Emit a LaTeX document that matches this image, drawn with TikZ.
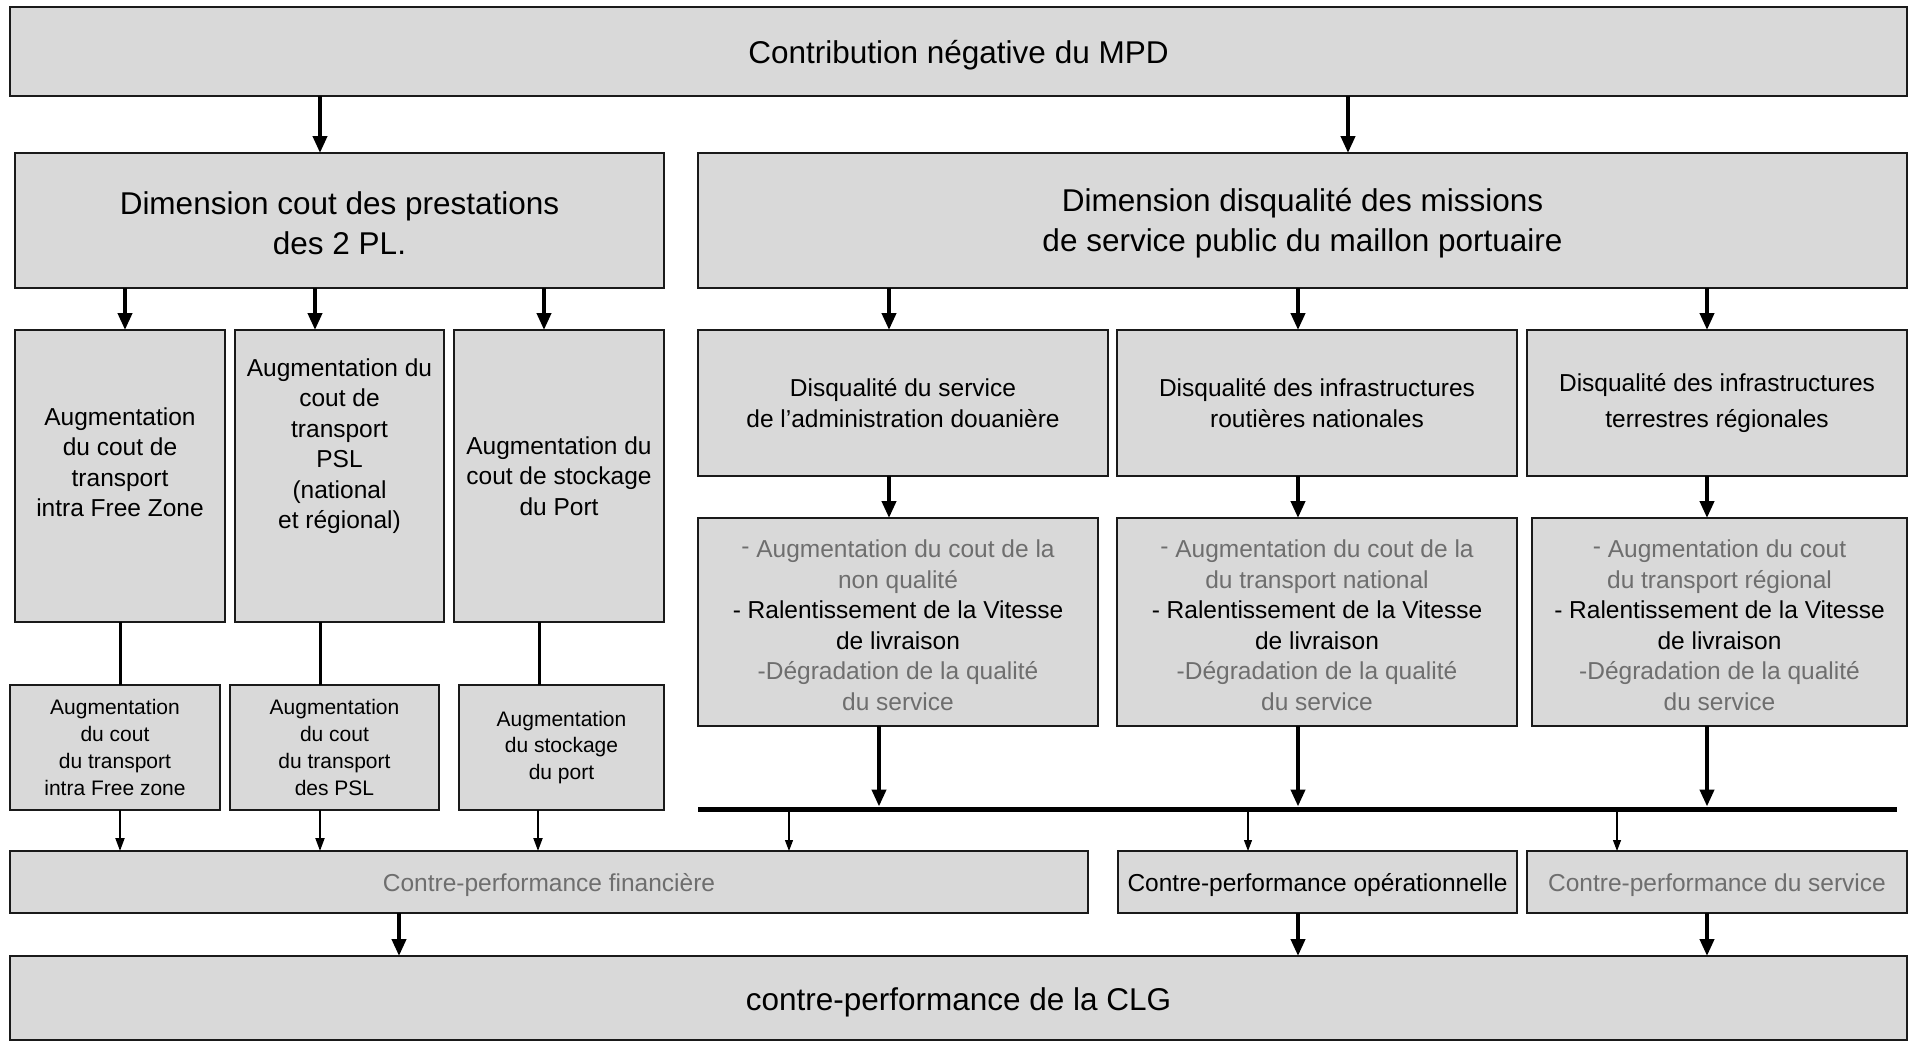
\documentclass[tikz,border=0pt]{standalone}
\usepackage{fontspec}
\setmainfont{Liberation Sans}
\usetikzlibrary{arrows.meta}
\definecolor{boxfill}{HTML}{D9D9D9}
\definecolor{boxdraw}{HTML}{1A1A1A}
\definecolor{txtgray}{HTML}{6E6E6E}
\newcommand{\gr}[1]{\textcolor{txtgray}{#1}}
\newcommand{\rdash}{\raisebox{0.25ex}{-}}
\begin{document}
\begin{tikzpicture}[x=1pt,y=-1pt,
  box/.style={draw=boxdraw, line width=1.4pt, fill=boxfill, inner sep=0pt, outer sep=0pt},
  big/.style={font=\fontsize{31.5}{40}\selectfont, align=center},
  mid/.style={font=\fontsize{24.5}{30.5}\selectfont, align=center},
  sml/.style={font=\fontsize{21}{26.7}\selectfont, align=center},
  bigarrow/.style={line width=4pt, -{Triangle[length=17pt,width=14pt]}},
  medarrow/.style={line width=2pt, -{Triangle[length=13pt,width=9pt]}},
  finearrow/.style={line width=1.2pt, -{Triangle[length=11pt,width=8pt]}},
  plainline/.style={line width=3pt}
]
\useasboundingbox (0,0) rectangle (1914,1044);
\fill[white] (0,0) rectangle (1914,1044);

% top
\node[box, minimum width=1897pt, minimum height=89pt] (top) at (958.5,51.5) {};
\node[big] (topt) at ([yshift=-4pt]top.center) {Contribution négative du MPD};

% dimensions
\node[box, minimum width=649pt, minimum height=135pt] (dimL) at (339.5,220.5) {};
\node[big] (dimLt) at ([yshift=-3pt]dimL.center) {Dimension cout des prestations\\des 2 PL.};
\node[box, minimum width=1209pt, minimum height=135pt] (dimR) at (1302.5,220.5) {};
\node[big] (dimRt) at ([yshift=-3pt]dimR.center) {Dimension disqualité des missions\\de service public du maillon portuaire};

% left row 3
\node[box, minimum width=210pt, minimum height=292pt] (a1) at (120,476) {};
\node[mid] (a1t) at ([yshift=14pt]a1.center) {Augmentation\\du cout de\\transport\\intra Free Zone};
\node[box, minimum width=209pt, minimum height=292pt] (a2) at (339.5,476) {};
\node[mid] (a2t) at ([yshift=30pt]a2.center) {Augmentation du\\cout de\\transport\\PSL\\(national\\et régional)};
\node[box, minimum width=210pt, minimum height=292pt] (a3) at (559,476) {};
\node[mid] (a3t) at (a3.center) {Augmentation du\\cout de stockage\\du Port};

% left row 4
\node[box, minimum width=210pt, minimum height=125pt] (b1) at (115,747.5) {};
\node[sml] (b1t) at (b1.center) {Augmentation\\du cout\\du transport\\intra Free zone};
\node[box, minimum width=209pt, minimum height=125pt] (b2) at (334.5,747.5) {};
\node[sml] (b2t) at (b2.center) {Augmentation\\du cout\\du transport\\des PSL};
\node[box, minimum width=205pt, minimum height=125pt] (b3) at (561.5,747.5) {};
\node[sml] (b3t) at (b3.center) {Augmentation\\du stockage\\du port};

% right row 3
\node[box, minimum width=410pt, minimum height=146pt] (c1) at (903,403) {};
\node[mid] (c1t) at (c1.center) {Disqualité du service\\de l’administration douanière};
\node[box, minimum width=400pt, minimum height=146pt] (c2) at (1317,403) {};
\node[mid] (c2t) at (c2.center) {Disqualité des infrastructures\\routières nationales};
\node[box, minimum width=380pt, minimum height=146pt] (c3) at (1717,403) {};
\node[mid] (c3t) at (c3.center) {Disqualité des infrastructures\\[6pt]terrestres régionales};

% right row 4
\node[box, minimum width=400pt, minimum height=208pt] (d1) at (898,622) {};
\node[mid] (d1t) at ([yshift=-3pt]d1.center) {\gr{\rdash{} Augmentation du cout de la}\\\gr{non qualité}\\- Ralentissement de la Vitesse\\de livraison\\\gr{-Dégradation de la qualité}\\\gr{du service}};
\node[box, minimum width=400pt, minimum height=208pt] (d2) at (1317,622) {};
\node[mid] (d2t) at ([yshift=-3pt]d2.center) {\gr{\rdash{} Augmentation du cout de la}\\\gr{du transport national}\\- Ralentissement de la Vitesse\\de livraison\\\gr{-Dégradation de la qualité}\\\gr{du service}};
\node[box, minimum width=375pt, minimum height=208pt] (d3) at (1719.5,622) {};
\node[mid] (d3t) at ([yshift=-3pt]d3.center) {\gr{\rdash{} Augmentation du cout}\\\gr{du transport régional}\\- Ralentissement de la Vitesse\\de livraison\\\gr{-Dégradation de la qualité}\\\gr{du service}};

% contre-performance
\node[box, minimum width=1078pt, minimum height=62pt] (e1) at (549,882) {};
\node[mid] (e1t) at ([yshift=-3.5pt]e1.center) {\gr{Contre-performance financière}};
\node[box, minimum width=399pt, minimum height=62pt] (e2) at (1317.5,882) {};
\node[mid] (e2t) at ([yshift=-3.5pt]e2.center) {Contre-performance opérationnelle};
\node[box, minimum width=380pt, minimum height=62pt] (e3) at (1717,882) {};
\node[mid] (e3t) at ([yshift=-3.5pt]e3.center) {\gr{Contre-performance du service}};

% bottom
\node[box, minimum width=1897pt, minimum height=84pt] (f) at (958.5,998) {};
\node[big] (ft) at ([yshift=-4.5pt]f.center) {contre-performance de la CLG};

% bus
\coordinate (busL) at (698,809);
\coordinate (busR) at (1897,809);
\draw[line width=5pt] (busL) -- (busR);

% connectors
\draw[bigarrow] (top.south -| 320,0) -- (dimL.north -| 320,0);
\draw[bigarrow] (top.south -| 1348,0) -- (dimR.north -| 1348,0);

\draw[bigarrow] (dimL.south -| 125,0) -- (a1.north -| 125,0);
\draw[bigarrow] (dimL.south -| 315,0) -- (a2.north -| 315,0);
\draw[bigarrow] (dimL.south -| 544,0) -- (a3.north -| 544,0);

\draw[bigarrow] (dimR.south -| 889,0) -- (c1.north -| 889,0);
\draw[bigarrow] (dimR.south -| 1298,0) -- (c2.north -| 1298,0);
\draw[bigarrow] (dimR.south -| 1707,0) -- (c3.north -| 1707,0);

\draw[plainline] (a1.south -| 120,0) -- (b1.north -| 120,0);
\draw[plainline] (a2.south -| 320,0) -- (b2.north -| 320,0);
\draw[plainline] (a3.south -| 539,0) -- (b3.north -| 539,0);

\draw[medarrow] (b1.south -| 120,0) -- (e1.north -| 120,0);
\draw[medarrow] (b2.south -| 320,0) -- (e1.north -| 320,0);
\draw[medarrow] (b3.south -| 538,0) -- (e1.north -| 538,0);

\draw[bigarrow] (c1.south -| 889,0) -- (d1.north -| 889,0);
\draw[bigarrow] (c2.south -| 1298,0) -- (d2.north -| 1298,0);
\draw[bigarrow] (c3.south -| 1707,0) -- (d3.north -| 1707,0);

\draw[bigarrow] (d1.south -| 879,0) -- ([yshift=2.5pt]busL -| 879,0);
\draw[bigarrow] (d2.south -| 1298,0) -- ([yshift=2.5pt]busL -| 1298,0);
\draw[bigarrow] (d3.south -| 1707,0) -- ([yshift=2.5pt]busL -| 1707,0);

\draw[finearrow] (busL -| 789,0) -- (e1.north -| 789,0);
\draw[finearrow] (busL -| 1248,0) -- (e2.north -| 1248,0);
\draw[finearrow] (busL -| 1617,0) -- (e3.north -| 1617,0);

\draw[bigarrow] (e1.south -| 399,0) -- (f.north -| 399,0);
\draw[bigarrow] (e2.south -| 1298,0) -- (f.north -| 1298,0);
\draw[bigarrow] (e3.south -| 1707,0) -- (f.north -| 1707,0);
\end{tikzpicture}
\end{document}
